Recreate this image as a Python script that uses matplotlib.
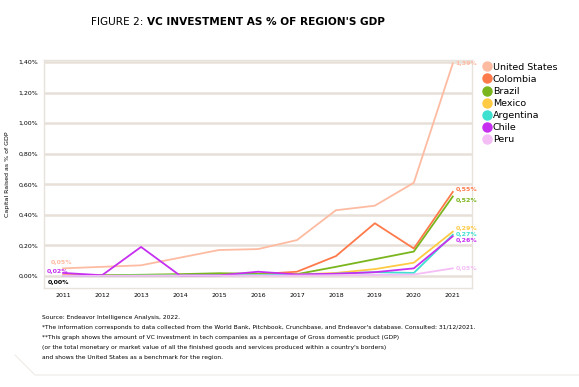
import numpy as np
import matplotlib.pyplot as plt
from matplotlib.lines import Line2D

plt.rcParams['font.family'] = ['DejaVu Sans']

years = list(range(2011, 2022))
countries = ["United States", "Colombia", "Brazil", "Mexico", "Argentina", "Chile", "Peru"]
colors = ["#fdbba2", "#ff7a4a", "#7ab51d", "#ffcb45", "#3ee0d0", "#c62ff0", "#f4bdf6"]

us = [0.05, 0.06, 0.07, 0.12, 0.17, 0.176, 0.235, 0.43, 0.46, 0.61, 1.39]
colombia = [0.005, 0.005, 0.007, 0.008, 0.01, 0.012, 0.028, 0.13, 0.345, 0.18, 0.55]
brazil = [0.00, 0.005, 0.008, 0.012, 0.018, 0.015, 0.012, 0.06, 0.11, 0.16, 0.52]
mexico = [0.0, 0.002, 0.003, 0.005, 0.006, 0.008, 0.01, 0.02, 0.045, 0.087, 0.29]
argentina = [0.0, 0.002, 0.003, 0.004, 0.005, 0.006, 0.008, 0.015, 0.025, 0.02, 0.27]
chile = [0.02, 0.005, 0.19, 0.003, 0.004, 0.028, 0.01, 0.015, 0.025, 0.05, 0.26]
peru = [0.0, 0.001, 0.001, 0.002, 0.002, 0.003, 0.003, 0.005, 0.007, 0.01, 0.05]
series = [us, colombia, brazil, mexico, argentina, chile, peru]

yticks = [0.0, 0.2, 0.4, 0.6, 0.8, 1.0, 1.2, 1.4]

fig = plt.figure(figsize=(5.79, 3.87), dpi=100)
ax = fig.add_axes([0.076, 0.256, 0.739, 0.589])

for vals, col, name in zip(series, colors, countries):
    ax.plot(years, vals, color=col, lw=1.3, label=name)

# end labels
end_off = {"United States": 0, "Colombia": 2, "Brazil": -3, "Mexico": 2, "Argentina": 0, "Chile": -3, "Peru": 0}
for vals, col, name in zip(series, colors, countries):
    ax.annotate(f"{vals[-1]:.2f}%".replace('.', ','), (years[-1], vals[-1]),
                xytext=(2, end_off[name]), textcoords='offset points',
                color=col, fontsize=4.5, fontweight='bold', va='center', ha='left')
ax.annotate("0,05%", (2011, us[0]), xytext=(-1, 4), textcoords='offset points',
            color=colors[0], fontsize=4.5, fontweight='bold', ha='center', va='center')
ax.annotate("0,02%", (2011, chile[0]), xytext=(-4, 1), textcoords='offset points',
            color=colors[5], fontsize=4.5, fontweight='bold', ha='center', va='center')
ax.annotate("0,00%", (2011, 0), xytext=(-3, -5), textcoords='offset points',
            color='black', fontsize=4.5, fontweight='bold', ha='center', va='center')

ax.set_xlim(2010.51, 2021.49)
ax.set_ylim(-0.078, 1.413)
ax.set_xticks(years)
ax.set_yticks(yticks)
ax.set_yticklabels([f"{v:.2f}%".replace('.', ',') for v in yticks])
ax.tick_params(length=0, labelsize=4.5, pad=4)
ax.tick_params(axis='x', pad=3.5)
ax.grid(axis='y', color='#e8e0d8', lw=1.8)
ax.set_axisbelow(True)
for s in ax.spines.values():
    s.set_color('#e8e2dc')
    s.set_linewidth(1.0)
ax.set_ylabel("Capital Raised as % of GDP", fontsize=4.5, labelpad=6)

handles = [Line2D([], [], marker='o', ls='', color=c, markersize=6.5) for c in colors]
fig.legend(handles, countries, loc='upper left', bbox_to_anchor=(0.826, 0.848),
           frameon=False, fontsize=6.8, handletextpad=0.15, labelspacing=0.33,
           handlelength=1.0, borderaxespad=0)

# title in two weights
t1 = fig.text(0.5, 0.943, "FIGURE 2: ", fontsize=7.6, ha='left', va='center')
t2 = fig.text(0.5, 0.943, "VC INVESTMENT AS % OF REGION'S GDP", fontsize=7.6,
              fontweight='bold', ha='left', va='center')
fig.canvas.draw()
r = fig.canvas.get_renderer()
w1 = t1.get_window_extent(r).width / fig.bbox.width
w2 = t2.get_window_extent(r).width / fig.bbox.width
x0 = 238 / 579 - (w1 + w2) / 2
t1.set_x(x0)
t2.set_x(x0 + w1)

notes = ["Source: Endeavor Intelligence Analysis, 2022.",
         "*The information corresponds to data collected from the World Bank, Pitchbook, Crunchbase, and Endeavor's database. Consulted: 31/12/2021.",
         "**This graph shows the amount of VC investment in tech companies as a percentage of Gross domestic product (GDP)",
         "(or the total monetary or market value of all the finished goods and services produced within a country's borders)",
         "and shows the United States as a benchmark for the region."]
for i, line in enumerate(notes):
    fig.text(0.073, 1 - (317 + i * 10) / 387, line, fontsize=4.3, va='center', ha='left')

fig.add_artist(Line2D([15 / 579, 35 / 579, 1.0], [1 - 355 / 387, 1 - 375 / 387, 1 - 375 / 387],
                      color='#eeeae6', lw=0.8, transform=fig.transFigure))

fig.savefig("out.png", dpi=100)
